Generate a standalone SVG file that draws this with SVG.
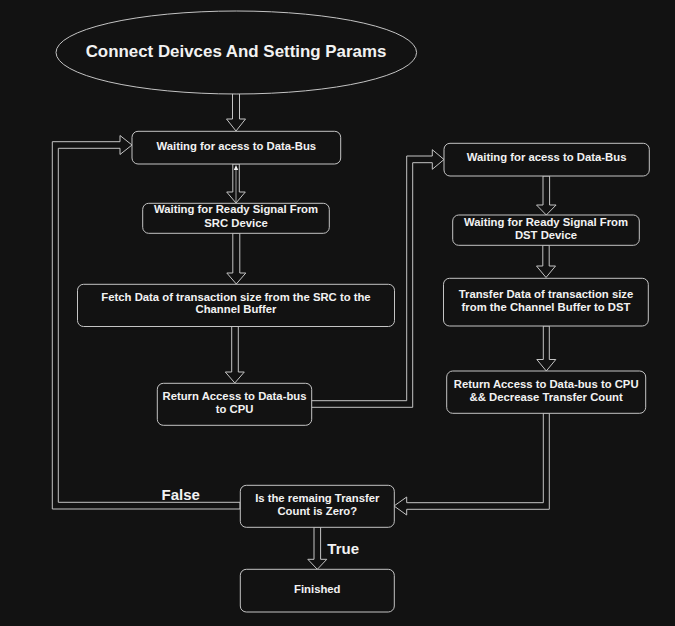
<svg xmlns="http://www.w3.org/2000/svg" width="675" height="626" viewBox="0 0 675 626">
<style>
.bg{fill:#121212}
.node{fill:#121212;stroke:#c4c4c4;stroke-width:1}
.arr{fill:#121212;stroke:#c4c4c4;stroke-width:1;stroke-linejoin:miter}
.t{font-family:"Liberation Sans",Arial,Helvetica,sans-serif;font-weight:bold;font-size:11.3px;fill:#f2f2f2;text-anchor:middle}
.title{font-family:"Liberation Sans",Arial,Helvetica,sans-serif;font-weight:bold;font-size:16.9px;fill:#f2f2f2;text-anchor:middle}
.lbl{font-family:"Liberation Sans",Arial,Helvetica,sans-serif;font-weight:bold;font-size:15px;fill:#f2f2f2}
</style>
<rect class="bg" x="0" y="0" width="675" height="626"/>
<g id="connectors">
<polygon class="arr" points="232.5,93.5 232.5,119 226.5,119 236,131 245.5,119 239.5,119 239.5,93.5"/>
<polygon class="arr" points="232.8,164 232.8,192 226.7,192 236,203 245.3,192 239.3,192 239.3,164"/>
<line x1="236" y1="170" x2="236" y2="203" stroke="#c4c4c4" stroke-width="0.8"/>
<polygon points="236,165 233.8,170 238.2,170" fill="#f2f2f2"/>
<polygon class="arr" points="232.8,233 232.8,273 226.8,273 236.3,284 245.8,273 239.8,273 239.8,233"/>
<polygon class="arr" points="231.7,326 231.7,372 225.3,372 234.8,383 244.3,372 238.3,372 238.3,326"/>
<polygon class="arr" points="311,407.3 412.7,407.3 412.7,162.7 432.3,162.7 432.3,169.3 444,159.5 432.3,149.7 432.3,156 406.7,156 406.7,400.7 311,400.7"/>
<polygon class="arr" points="543,176 543,205 536.5,205 546.3,215 556.1,205 549.6,205 549.6,176"/>
<polygon class="arr" points="542.8,245 542.8,266 536.5,266 546,277.5 555.5,266 549.2,266 549.2,245"/>
<polygon class="arr" points="543.3,326 543.3,359.5 536.8,359.5 546.3,371 555.8,359.5 549.3,359.5 549.3,326"/>
<polygon class="arr" points="543.3,413 543.3,502.7 406.7,502.7 406.7,497 394,506 406.7,515 406.7,509.3 549.3,509.3 549.3,413"/>
<polygon class="arr" points="240,502.3 58.3,502.3 58.3,148.3 120,148.3 120,154.5 132,145 120,135.5 120,141.7 52.3,141.7 52.3,509 240,509"/>
<polygon class="arr" points="314,527 314,559.3 307.8,559.3 317.3,569.3 326.8,559.3 320.6,559.3 320.6,527"/>
</g>
<g id="start">
<ellipse class="node" cx="236.3" cy="52.5" rx="180.3" ry="41.5"/>
<text class="title" x="236" y="57">Connect Deivces And Setting Params</text>
</g>
<g id="src-wait-bus">
<rect class="node" x="132" y="131.3" width="208.7" height="32.7" rx="6"/>
<text class="t" x="236.3" y="150">Waiting for acess to Data-Bus</text>
</g>
<g id="src-wait-ready">
<rect class="node" x="142.7" y="203.3" width="186.6" height="30" rx="6"/>
<text class="t" x="236" y="213.3">Waiting for Ready Signal From</text>
<text class="t" x="236" y="226.7">SRC Device</text>
</g>
<g id="fetch">
<rect class="node" x="77.5" y="284.3" width="317" height="42.2" rx="6"/>
<text class="t" x="236" y="300.7">Fetch Data of transaction size from the SRC to the</text>
<text class="t" x="236" y="313.3">Channel Buffer</text>
</g>
<g id="src-return">
<rect class="node" x="157.3" y="383.3" width="154.4" height="42" rx="6"/>
<text class="t" x="234.5" y="400">Return Access to Data-bus</text>
<text class="t" x="234.5" y="413.3">to CPU</text>
</g>
<g id="dst-wait-bus">
<rect class="node" x="444" y="143.3" width="205.3" height="32.7" rx="6"/>
<text class="t" x="546.6" y="161.3">Waiting for acess to Data-Bus</text>
</g>
<g id="dst-wait-ready">
<rect class="node" x="452.7" y="215" width="186.6" height="30.3" rx="6"/>
<text class="t" x="546" y="225.7">Waiting for Ready Signal From</text>
<text class="t" x="546" y="238.7">DST Device</text>
</g>
<g id="transfer">
<rect class="node" x="443.5" y="278.3" width="204.8" height="47.7" rx="6"/>
<text class="t" x="546" y="298">Transfer Data of transaction size</text>
<text class="t" x="546" y="310.7">from the Channel Buffer to DST</text>
</g>
<g id="dst-return">
<rect class="node" x="446.7" y="371" width="199" height="42.3" rx="6"/>
<text class="t" x="546.2" y="388">Return Access to Data-bus to CPU</text>
<text class="t" x="546.2" y="400.7">&amp;&amp; Decrease Transfer Count</text>
</g>
<g id="decision">
<rect class="node" x="240.3" y="485.3" width="154" height="42" rx="6"/>
<text class="t" x="317.3" y="502">Is the remaing Transfer</text>
<text class="t" x="317.3" y="514.7">Count is Zero?</text>
</g>
<g id="finished">
<rect class="node" x="240.3" y="569.3" width="154" height="42.7" rx="6"/>
<text class="t" x="317.3" y="592.7">Finished</text>
</g>
<g id="labels">
<text class="lbl" x="161.5" y="499.7">False</text>
<text class="lbl" x="327.3" y="553.7">True</text>
</g>
</svg>
